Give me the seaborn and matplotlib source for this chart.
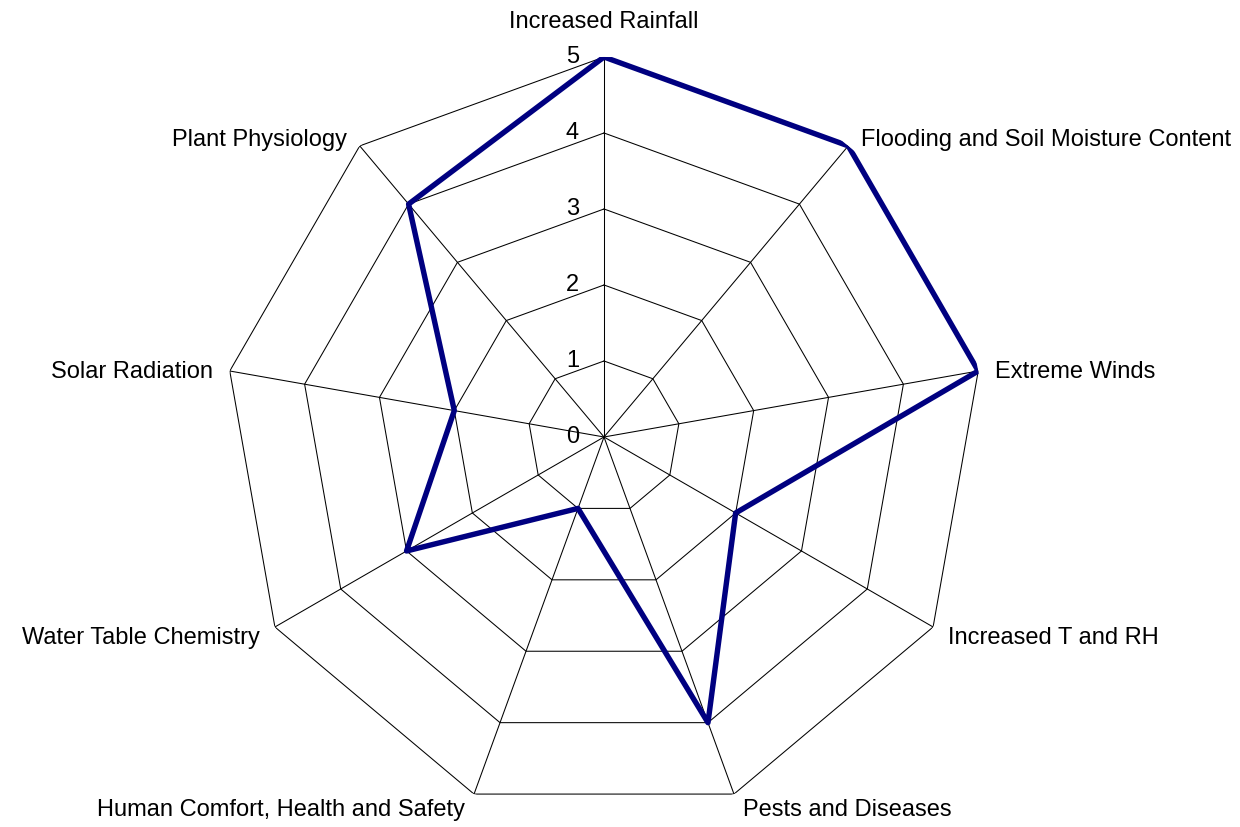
import numpy as np
import matplotlib
matplotlib.use("Agg")
import matplotlib.pyplot as plt
import seaborn as sns

categories = ["Increased Rainfall", "Flooding and Soil Moisture Content", "Extreme Winds",
              "Increased T and RH", "Pests and Diseases", "Human Comfort, Health and Safety",
              "Water Table Chemistry", "Solar Radiation", "Plant Physiology"]
values = [5, 5, 5, 2, 4, 1, 3, 2, 4]
ring_levels = [0, 1, 2, 3, 4, 5]

sns.set_theme(style="white")
plt.rcParams['font.family'] = ['Liberation Sans', 'DejaVu Sans']

fig = plt.figure(figsize=(12.4, 8.27), dpi=100)
fig.patch.set_facecolor("white")
ax = fig.add_axes([0.1806, 0.0121, 0.613, 0.919], projection="polar")
ax.set_theta_offset(np.pi / 2)
ax.set_theta_direction(-1)
ax.set_ylim(0, 5)
ax.grid(False)
ax.spines["polar"].set_visible(False)
ax.set_xticks([])
ax.set_yticks([])
ax.set_facecolor("white")

n = len(categories)
theta = np.arange(n) * 2 * np.pi / n
theta_closed = np.append(theta, theta[0])

# rings
for r in ring_levels[1:]:
    ax.plot(theta_closed, [r] * (n + 1), color="black", lw=0.75, zorder=1)
# spokes
for t in theta:
    ax.plot([t, t], [0, ring_levels[-1]], color="black", lw=0.75, zorder=1)

# data
vals_closed = values + [values[0]]
sns.lineplot(x=theta_closed, y=vals_closed, ax=ax, sort=False, color="#000080",
             linewidth=3.9, zorder=3, estimator=None)
ax.set_xlabel("")
ax.set_ylabel("")

FS = 17

# radial tick labels
for r in ring_levels:
    ax.annotate(str(r), xy=(0, r), xytext=(-18, 0), textcoords="offset points",
                ha="right", va="center", fontsize=FS, color="black")

# category labels
for t, lab in zip(theta, categories):
    deg = np.degrees(t) % 360
    if deg < 1 or deg > 359:
        ha, off = "center", (0, 25)
    elif deg < 179:
        ha = "left"
        off = (8 * np.sin(t) + 4, 8 * np.cos(t) - (4 if deg > 90 else 2))
    else:
        ha = "right"
        off = (8 * np.sin(t) - 4, 8 * np.cos(t) - (4 if deg < 270 else 2))
    ax.annotate(lab, xy=(t, ring_levels[-1]), xytext=off, textcoords="offset points",
                ha=ha, va="center", fontsize=FS, color="black", annotation_clip=False)

fig.savefig("out.png", dpi=100, facecolor="white")
